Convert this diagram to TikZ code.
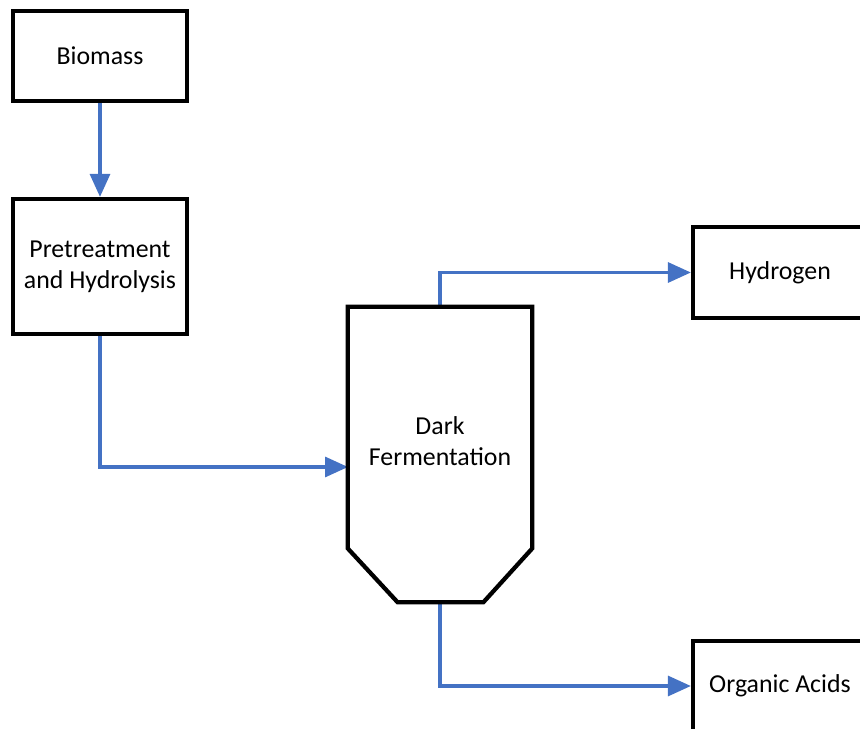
\documentclass[tikz,border=0pt]{standalone}
\usepackage{fontspec}
\setmainfont{Carlito}
\usepackage{xcolor}
\usetikzlibrary{arrows.meta,positioning,calc}
\definecolor{flowblue}{RGB}{68,114,196}

\begin{document}
\begin{tikzpicture}[
  x=0.02cm, y=-0.02cm,
  block/.style={draw, line width=0.085cm, minimum width=3.48cm, minimum height=1.8cm,
    align=center, inner sep=0pt, font=\fontsize{14.7}{17.8}\selectfont},
  arr/.style={-{Triangle[length=0.46cm, width=0.4cm]}, line width=0.065cm, flowblue},
  flow/.style={line width=0.065cm, flowblue},
]
\useasboundingbox (0,0) rectangle (860,729);
\clip (0,0) rectangle (860,729);

% Feed side
\node[block] (bio) at (100,56) {Biomass};
\node[block, minimum height=2.7cm] (pre) at (100,266.5) {Pretreatment\\and Hydrolysis};

% Reactor (outline drawn below)
\node[minimum width=3.68cm, minimum height=5.9cm, inner sep=0pt] (ferm) at (440,454.5) {};
\node[font=\fontsize{14.7}{17.8}\selectfont, align=center] (fermtxt) at (440,441) {Dark\\Fermentation};
\coordinate (fermin) at (348,467);

% Products
\node[block, minimum height=1.82cm] (hyd) at (780,272.5) {Hydrogen};
\node[block] (org) at (780,686) {Organic Acids};

% Arrows
\draw[arr] (bio) -- (pre);
\draw[arr] (pre.south) |- (fermin);
\draw[arr] (ferm.north) |- (hyd.west);
\draw[arr] (ferm.south) |- (org.west);

% Reactor outline
\draw[line width=0.085cm] (ferm.north west) -- (ferm.north east)
  -- ($(ferm.south east)+(0,-54)$) -- ($(ferm.south east)+(-49,0)$)
  -- ($(ferm.south west)+(50,0)$) -- ($(ferm.south west)+(0,-54)$) -- cycle;

\end{tikzpicture}
\end{document}
